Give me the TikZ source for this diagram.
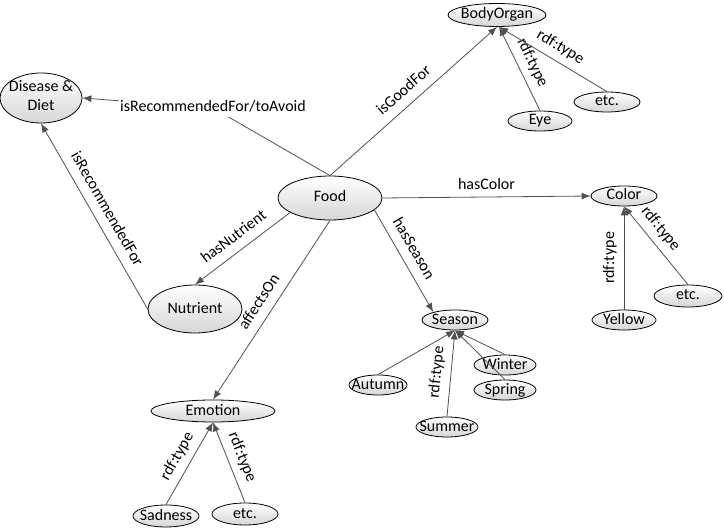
\documentclass[tikz,border=0pt]{standalone}
\usepackage{fontspec}
\setmainfont{Carlito}
\usetikzlibrary{shapes.geometric,arrows.meta}
\definecolor{linkgray}{RGB}{80,80,80}
\newcommand{\ntext}[1]{\makebox[0pt]{#1}}
\begin{document}
\begin{tikzpicture}[x=1pt,y=-1pt,
  font=\fontsize{16}{19}\selectfont,
  concept/.style={ellipse, draw=black, line width=0.8pt, top color=white, bottom color=black!16,
    inner sep=0pt, minimum height=20pt, text height=10pt, text depth=2pt},
  link/.style={draw=linkgray, line width=0.8pt, -{Latex[length=9pt,width=7pt]}},
  lbl/.style={inner sep=1.5pt, text=black, text height=11pt, text depth=4pt}]
\useasboundingbox (0,0) rectangle (724,532);
\node[concept, minimum width=82pt, minimum height=50pt] (disease) at (41,98) {\ntext{\begin{tabular}{@{}c@{}}Disease \&\\Diet\end{tabular}}};
\node[concept, minimum width=98pt, minimum height=23pt] (bodyorgan) at (497,15) {\ntext{BodyOrgan}};
\node[concept, minimum width=64pt] (eye) at (540,121) {\ntext{Eye}};
\node[concept, minimum width=66pt] (organetc) at (607,102) {\ntext{etc.}};
\node[concept, minimum width=104pt, minimum height=44pt] (food) at (330,198) {\ntext{Food}};
\node[concept, minimum width=66pt] (color) at (624,196) {\ntext{Color}};
\node[concept, minimum width=68pt, minimum height=22pt] (coloretc) at (688,296) {\ntext{etc.}};
\node[concept, minimum width=64pt] (yellow) at (624,320) {\ntext{Yellow}};
\node[concept, minimum width=94pt, minimum height=48pt] (nutrient) at (195,309) {\ntext{Nutrient}};
\node[concept, minimum width=66pt] (season) at (455,320) {\ntext{Season}};
\node[concept, minimum width=62pt] (winter) at (505,365) {\ntext{Winter}};
\node[concept, minimum width=62pt] (spring) at (505,390) {\ntext{Spring}};
\node[concept, minimum width=58pt] (autumn) at (378,385) {\ntext{Autumn}};
\node[concept, minimum width=62pt] (summer) at (447,427) {\ntext{Summer}};
\node[concept, minimum width=124pt, minimum height=22pt] (emotion) at (213,411) {\ntext{Emotion}};
\node[concept, minimum width=66pt, minimum height=22pt] (sadness) at (166,516) {\ntext{Sadness}};
\node[concept, minimum width=66pt, minimum height=22pt] (emotionetc) at (245,514) {\ntext{etc.}};
\coordinate (avoidpt) at (213,108);
\draw[link] (food.north) -- (avoidpt) -- (disease.east);
\draw[link] (nutrient.west) -- node[lbl, sloped, above=4pt] (recfor) {isRecommendedFor} (disease.south);
\draw[link] (food.north) -- node[lbl, sloped, above=4pt] (goodfor) {isGoodFor} (bodyorgan.south);
\draw[link] (eye.north) -- node[lbl, sloped, above=4pt] (eyetype) {rdf:type} (bodyorgan.-80);
\draw[link] (organetc.north) -- node[lbl, sloped, above=4pt] (organtype) {rdf:type} (bodyorgan.-80);
\draw[link] (food.east) -- node[lbl, above=2pt] (hascolor) {hasColor} (color.west);
\draw[link] (yellow.north) -- node[lbl, sloped, above=4pt] (yellowtype) {rdf:type} (color.south);
\draw[link] (coloretc.north) -- node[lbl, sloped, above=4pt, pos=0.6] (colortype) {rdf:type} (color.south);
\draw[link] (food.-15) -- node[lbl, sloped, above=4pt, pos=0.45] (hasseason) {hasSeason} (season.160);
\draw[link] (autumn.north) -- (season.south);
\draw[link] (winter.north) -- (season.south);
\draw[link] (spring.north) -- (season.south);
\draw[link] (summer.north) -- node[lbl, sloped, above=4pt] (summertype) {rdf:type} (season.south);
\draw[link] (food.200) -- node[lbl, sloped, above=4pt] (hasnutrient) {hasNutrient} (nutrient.north);
\draw[link] (food.south) -- node[lbl, sloped, above=4pt] (affects) {affectsOn} (emotion.north);
\draw[link] (sadness.north) -- node[lbl, sloped, above=4pt] (sadtype) {rdf:type} (emotion.south);
\draw[link] (emotionetc.north) -- node[lbl, sloped, above=4pt] (emotiontype) {rdf:type} (emotion.south);
\node[lbl, fill=white] (avoidlbl) at (avoidpt) {isRecommendedFor/toAvoid};
\end{tikzpicture}
\end{document}
